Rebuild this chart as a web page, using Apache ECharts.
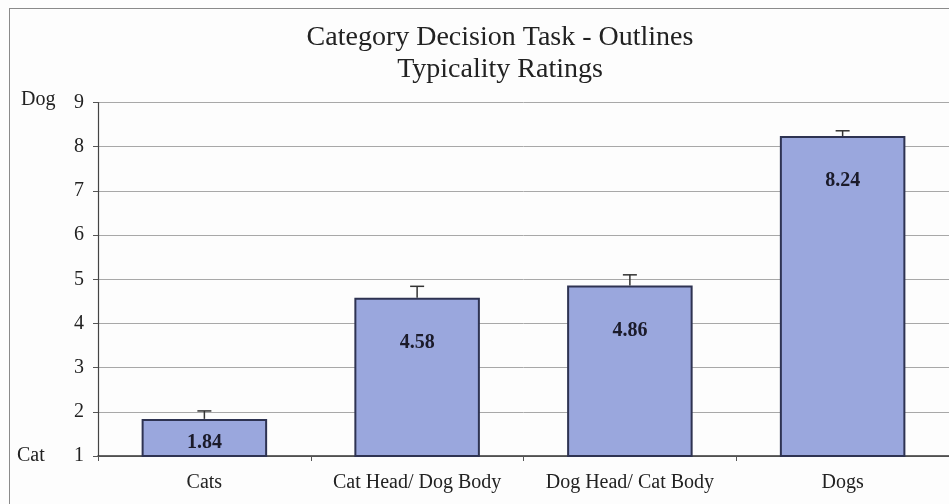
<!DOCTYPE html>
<html>
<head>
<meta charset="utf-8">
<script src="https://cdn.jsdelivr.net/npm/echarts@6/dist/echarts.min.js"></script>
<style>
  html, body { margin: 0; padding: 0; background: #fdfdfd; overflow: hidden; }
  #frame { position: absolute; left: 9px; top: 8px; width: 1000px; height: 1000px; border: 1px solid #8a8a8a; }
  #chart { position: absolute; left: 0; top: 0; width: 949px; height: 504px; }
</style>
</head>
<body>
<div id="frame"></div>
<div id="chart"></div>
<script>
const categories = ['Cats', 'Cat Head/ Dog Body', 'Dog Head/ Cat Body', 'Dogs']
const ratings = [1.84, 4.58, 4.86, 8.24]
const errors = [0.18, 0.26, 0.24, 0.12]
const endLabels = { 9: 'Dog', 1: 'Cat' }

const serif = '"Liberation Serif", "DejaVu Serif", serif'

const chart = echarts.init(document.getElementById('chart'))

chart.setOption({
  backgroundColor: 'transparent',
  animation: false,
  title: {
    text: 'Category Decision Task - Outlines\nTypicality Ratings',
    left: 495,
    top: 17,
    textAlign: 'center',
    textStyle: {
      fontFamily: serif,
      fontSize: 28,
      fontWeight: 'normal',
      color: '#222',
      lineHeight: 32
    }
  },
  grid: {
    left: 98,
    top: 102.5,
    width: 855,
    height: 353.5
  },
  xAxis: {
    type: 'category',
    data: categories,
    axisLine: { lineStyle: { color: '#333', width: 1.5 } },
    axisTick: { show: true, interval: 0, length: 5, lineStyle: { color: '#555' } },
    axisLabel: {
      interval: 0,
      hideOverlap: false,
      fontFamily: serif,
      fontSize: 20,
      color: '#222',
      margin: 17
    }
  },
  yAxis: {
    type: 'value',
    min: 1,
    max: 9,
    interval: 1,
    axisLine: { show: true, lineStyle: { color: '#444', width: 1.2 } },
    axisTick: { show: true, length: 5, lineStyle: { color: '#555' } },
    splitLine: { lineStyle: { color: '#a8a8a8', width: 1 } },
    axisLabel: {
      margin: 14,
      formatter: function (v) {
        if (v === 9) return '{d|' + endLabels[v] + '}{v|' + v + '}'
        if (v === 1) return '{n|' + endLabels[v] + '}{v|' + v + '}'
        return '{v|' + v + '}'
      },
      rich: {
        d: { fontFamily: serif, fontSize: 20, color: '#222', width: 53, align: 'left', padding: [0, 0, 6, 0] },
        n: { fontFamily: serif, fontSize: 20, color: '#222', width: 57, align: 'left' },
        v: { fontFamily: serif, fontSize: 20, color: '#222' }
      }
    }
  },
  series: [
    {
      type: 'bar',
      data: ratings.map(function (v, i) {
        return i === 0 ? { value: v, label: { position: 'inside', offset: [0, 5] } } : v
      }),
      barWidth: '59%',
      itemStyle: {
        color: '#9aa7dd',
        borderColor: '#2e3352',
        borderWidth: 2
      },
      label: {
        show: true,
        position: 'insideTop',
        distance: 35,
        fontFamily: serif,
        fontSize: 20,
        fontWeight: 'bold',
        color: '#1b1b2a'
      }
    },
    {
      type: 'custom',
      z: 5,
      data: ratings.map(function (v, i) { return [i, v, v + errors[i]] }),
      renderItem: function (params, api) {
        const base = api.coord([api.value(0), api.value(1)])
        const top = api.coord([api.value(0), api.value(2)])
        const half = 7
        return {
          type: 'group',
          children: [
            { type: 'line', shape: { x1: base[0], y1: base[1], x2: top[0], y2: top[1] }, style: { stroke: '#333', lineWidth: 1.5 } },
            { type: 'line', shape: { x1: top[0] - half, y1: top[1], x2: top[0] + half, y2: top[1] }, style: { stroke: '#333', lineWidth: 1.5 } }
          ]
        }
      }
    }
  ]
})
</script>
</body>
</html>
